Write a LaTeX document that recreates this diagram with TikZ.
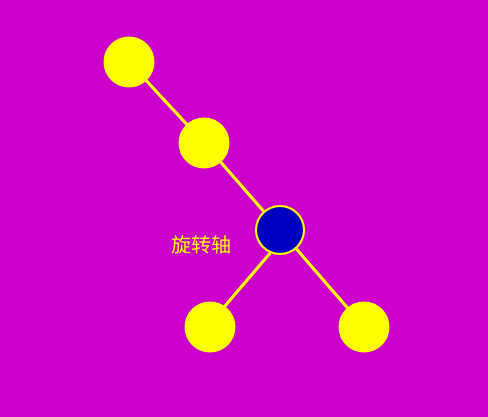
\documentclass[tikz,border=0pt]{standalone}
\usepackage{fontspec}
\newfontfamily\cjk{Noto Sans CJK SC}
\definecolor{bg}{HTML}{CC00CC}
\definecolor{yel}{HTML}{FFFF00}
\definecolor{blu}{HTML}{0000C0}
\begin{document}
\begin{tikzpicture}[x=1pt,y=-1pt,
  ball/.style={circle,fill=yel,minimum size=51pt,inner sep=0pt},
  axisball/.style={circle,fill=blu,draw=yel,line width=2pt,minimum size=48pt,inner sep=0pt},
  link/.style={draw=yel,line width=3pt},
  lbl/.style={text=yel,font=\cjk\fontsize{20}{22}\selectfont,inner sep=0pt}]
\fill[bg] (0,0) rectangle (488,417);
\useasboundingbox (0,0) rectangle (488,417);
\coordinate (pa) at (129,62);
\coordinate (pb) at (204,143);
\coordinate (pc) at (280,230);
\coordinate (pd) at (210,327);
\coordinate (pe) at (364,327);
\coordinate (pdend) at (207,327);
\draw[link] (pa) -- (pb) -- (pc);
\draw[link] (pc) -- (pe);
\node[ball] (a) at (pa) {};
\node[ball] (b) at (pb) {};
\node[axisball] (c) at (pc) {};
\draw[link] (c.247) -- (pdend);
\node[ball] (d) at (pd) {};
\node[ball] (e) at (pe) {};
\node[lbl] (t) at (201.5,245) {旋转轴};
\end{tikzpicture}
\end{document}
